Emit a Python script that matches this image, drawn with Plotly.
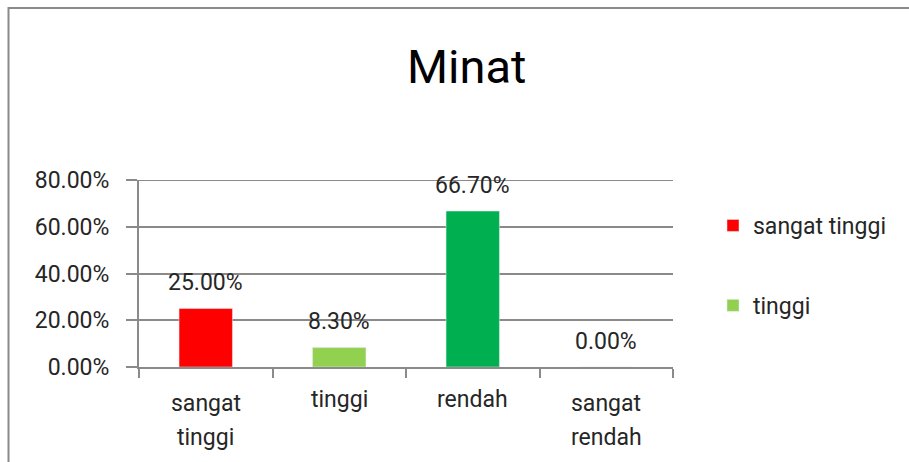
import plotly.graph_objects as go

categories = ["sangat tinggi", "tinggi", "rendah", "sangat rendah"]
values = [25.00, 8.30, 66.70, 0.00]
colors = ["#FF0000", "#92D050", "#00B050", "#0070C0"]
legend_shown = [True, True, False, False]
y_ticks = [0, 20, 40, 60, 80]
title_text = "Minat"

FONT = "Roboto, Arial, sans-serif"
FS = 23
TXT = "#262626"
GRID = "#8a8a8a"

L, R, T, B = 139, 236, 180, 95
W, H = 909, 462
pw, ph = W - L - R, H - T - B

fig = go.Figure()
for i, (cat, val, col) in enumerate(zip(categories, values, colors)):
    fig.add_trace(go.Bar(
        x=[cat], y=[val], name=cat, marker_color=col, width=0.4,
        showlegend=legend_shown[i], legendgroup=f"g{i}",
        hoverinfo="skip",
    ))

annotations = []
# data labels
for cat, val in zip(categories, values):
    annotations.append(dict(
        x=cat, y=val, xref="x", yref="y", text=f"{val:.2f}%",
        showarrow=False, yanchor="middle", yshift=26,
        font=dict(family=FONT, size=FS, color=TXT),
    ))
# category labels (split into lines)
for cat in categories:
    words = cat.split(" ")
    shifts = [-32] if len(words) == 1 else [-36, -70]
    for w, s in zip(words, shifts):
        annotations.append(dict(
            x=cat, y=0, xref="x", yref="paper", text=w, showarrow=False,
            yanchor="middle", yshift=s,
            font=dict(family=FONT, size=FS, color=TXT),
        ))
# title
annotations.append(dict(
    x=(466 - L) / pw, y=1, xref="paper", yref="paper", yanchor="middle",
    yshift=T - 66, text=title_text, showarrow=False,
    font=dict(family=FONT, size=47, color="#000000"),
))

shapes = [dict(
    type="rect", xref="paper", yref="paper",
    x0=(8.5 - L) / pw, x1=(960 - L) / pw,
    y0=-(520 - H + B) / ph, y1=1 + (T - 8) / ph,
    line=dict(color="#8a8a8a", width=2), layer="below",
)]
# top gridline (plotly drops the grid line lying on the plot edge)
shapes.append(dict(
    type="line", xref="paper", yref="y", x0=0, x1=1,
    y0=y_ticks[-1], y1=y_ticks[-1],
    line=dict(color=GRID, width=2), layer="below",
))

fig.update_layout(
    width=W, height=H,
    margin=dict(l=L, r=R, t=T, b=B),
    paper_bgcolor="white", plot_bgcolor="white",
    barmode="overlay",
    font=dict(family=FONT, size=FS, color=TXT),
    annotations=annotations,
    shapes=shapes,
    showlegend=True,
    legend=dict(
        x=(713 - L) / pw, y=1 - (204 - T) / ph, xanchor="left", yanchor="top",
        traceorder="grouped", tracegroupgap=47,
        font=dict(family=FONT, size=FS, color=TXT),
        bgcolor="rgba(0,0,0,0)",
    ),
    xaxis=dict(
        type="category", categoryorder="array", categoryarray=categories,
        range=[-0.5, len(categories) - 0.5],
        showticklabels=False, showgrid=False,
        showline=True, linecolor=GRID, linewidth=2,
        ticks="outside", tickson="boundaries", ticklen=9,
        tickcolor=GRID, tickwidth=2, fixedrange=True,
    ),
    yaxis=dict(
        range=[0, y_ticks[-1]], tickvals=y_ticks,
        ticktext=[f"{v:.2f}%" for v in y_ticks],
        showgrid=True, gridcolor=GRID, gridwidth=2,
        zeroline=False, showline=True, linecolor=GRID, linewidth=2,
        ticks="outside", ticklen=11, tickcolor=GRID, tickwidth=2,
        ticklabelstandoff=12,
        tickfont=dict(family=FONT, size=FS, color=TXT), fixedrange=True,
    ),
)

fig.write_html(
    "out.html",
    config={"displayModeBar": False},
    post_script="document.body.style.margin='0';document.body.style.overflow='hidden';",
)
